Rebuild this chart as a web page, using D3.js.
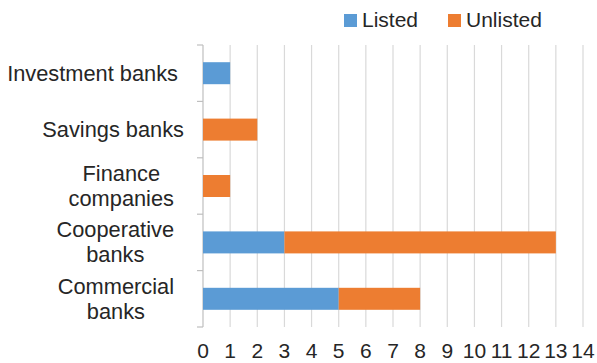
<!DOCTYPE html>
<html>
<head>
<meta charset="utf-8">
<script src="https://cdn.jsdelivr.net/npm/d3@7"></script>
<style>
  html, body { margin: 0; padding: 0; background: #fff; }
  svg { display: block; font-family: "Liberation Sans", Arial, Helvetica, sans-serif; }
</style>
</head>
<body>
<svg id="chart" width="597" height="363"></svg>
<script>
// Bank categories, top to bottom
const categories = [
  ["Investment banks"],
  ["Savings banks"],
  ["Finance", "companies"],
  ["Cooperative", "banks"],
  ["Commercial", "banks"]
];
const listed   = [1, 0, 0, 3, 5];
const unlisted = [0, 2, 1, 10, 3];
const seriesNames = ["Listed", "Unlisted"];
const xTicks = [0, 1, 2, 3, 4, 5, 6, 7, 8, 9, 10, 11, 12, 13, 14];

const colors = ["#5B9BD5", "#ED7D31"];
const textColor = "#262626";
const fontSize = 21;
const labelFontSize = 21.8;

const svg = d3.select("#chart");
const plot = { left: 203, right: 583, top: 45, bottom: 327 };

const x = d3.scaleLinear().domain([0, 14]).range([plot.left, plot.right]);
const keys = categories.map(c => c.join(" "));
const y = d3.scaleBand().domain(keys).range([plot.top, plot.bottom]).paddingInner(0.61).paddingOuter(0.305);
const band = d3.scaleBand().domain(keys).range([plot.top, plot.bottom]);

// vertical gridlines
svg.append("g").selectAll("line").data(xTicks.slice(1)).join("line")
  .attr("x1", d => x(d)).attr("x2", d => x(d))
  .attr("y1", plot.top).attr("y2", plot.bottom)
  .attr("stroke", "#d9d9d9").attr("stroke-width", 1.2);

// category axis line with band-boundary ticks
const boundaries = keys.map(k => band(k)).concat([plot.bottom]);
const axisG = svg.append("g");
axisG.append("line")
  .attr("x1", plot.left).attr("x2", plot.left)
  .attr("y1", plot.top).attr("y2", plot.bottom)
  .attr("stroke", "#bfbfbf").attr("stroke-width", 1.2);
axisG.selectAll("line.tick").data(boundaries).join("line")
  .attr("class", "tick")
  .attr("x1", plot.left - 6).attr("x2", plot.left)
  .attr("y1", d => d).attr("y2", d => d)
  .attr("stroke", "#bfbfbf").attr("stroke-width", 1.2);

// stacked bars
const rows = keys.map((k, i) => ({ key: k, Listed: listed[i], Unlisted: unlisted[i] }));
const stacked = d3.stack().keys(seriesNames)(rows);
svg.append("g").selectAll("g").data(stacked).join("g")
  .attr("fill", (d, i) => colors[i])
  .selectAll("rect").data(d => d.filter(s => s[1] > s[0])).join("rect")
  .attr("x", d => x(d[0]))
  .attr("width", d => x(d[1]) - x(d[0]))
  .attr("y", d => y(d.data.key))
  .attr("height", y.bandwidth());

// x tick labels
svg.append("g").selectAll("text").data(xTicks).join("text")
  .attr("x", d => x(d)).attr("y", 358)
  .attr("text-anchor", "middle")
  .attr("font-size", fontSize).attr("fill", textColor)
  .text(d => d);

// category labels: lines centered within a right-aligned block
const labelRight = [178, 184, 174, 174, 174];
const lineGap = 25;
categories.forEach((lines, i) => {
  const g = svg.append("g");
  const cy = band(keys[i]) + band.bandwidth() / 2;
  const texts = g.selectAll("text").data(lines).join("text")
    .attr("y", (d, j) => cy + (j - (lines.length - 1) / 2) * lineGap + 7.5)
    .attr("font-size", labelFontSize).attr("fill", textColor)
    .attr("text-anchor", "middle")
    .text(d => d);
  const maxW = d3.max(texts.nodes(), n => n.getComputedTextLength());
  texts.attr("x", labelRight[i] - maxW / 2);
});

// legend
const legendX = [344, 448];
const legend = svg.append("g").selectAll("g").data(seriesNames).join("g")
  .attr("transform", (d, i) => `translate(${legendX[i]},14)`);
legend.append("rect").attr("width", 13).attr("height", 13).attr("fill", (d, i) => colors[i]);
legend.append("text").attr("x", 18).attr("y", 13)
  .attr("font-size", fontSize).attr("fill", textColor).text(d => d);
</script>
</body>
</html>
